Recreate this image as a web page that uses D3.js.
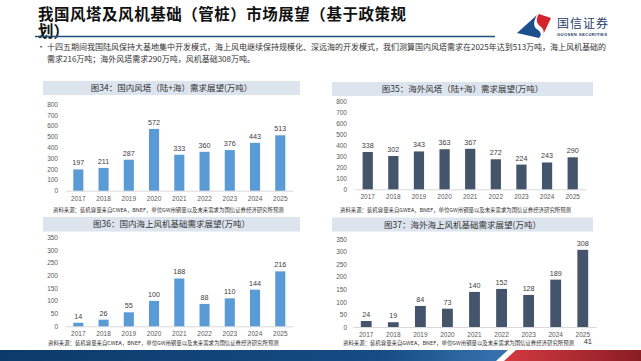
<!DOCTYPE html>
<html>
<head>
<meta charset="utf-8">
<script src="https://cdn.jsdelivr.net/npm/d3@7/dist/d3.min.js"></script>
<style>
  body { margin: 0; background: #fff; }
  svg { display: block; }
</style>
</head>
<body>
<svg id="page" width="641" height="361"></svg>
<script>
'use strict';
var years = ['2017', '2018', '2019', '2020', '2021', '2022', '2023', '2024', '2025'];
var domesticTower = [197, 211, 287, 572, 333, 360, 376, 443, 513];
var overseasTower = [338, 302, 343, 363, 367, 272, 224, 243, 290];
var domesticFoundation = [14, 26, 55, 100, 188, 88, 110, 144, 216];
var overseasFoundation = [24, 19, 84, 73, 140, 152, 128, 189, 308];
var towerTicks = [0, 100, 200, 300, 400, 500, 600, 700, 800];
var foundationTicks = [0, 50, 100, 150, 200, 250, 300, 350];
var chartTitles = [
    '图34：国内风塔（陆+海）需求展望(万吨）',
    '图35：海外风塔（陆+海）需求展望(万吨）',
    '图36：国内海上风机基础需求展望(万吨）',
    '图37：海外海上风机基础需求展望(万吨）'
];
var sourceCWEA = '资料来源：装机容量来自CWEA，BNEF，单位GW用钢量以及未来需求为国信证券经济研究所预测';
var sourceGWEA = '资料来源：装机容量来自GWEA，BNEF，单位GW用钢量以及未来需求为国信证券经济研究所预测';
var pageTitle = ['我国风塔及风机基础（管桩）市场展望（基于政策规', '划）'];
var bulletLines = [
    '十四五期间我国陆风保持大基地集中开发模式，海上风电继续保持规模化、深远海的开发模式，我们测算国内风塔需求在2025年达到513万吨，海上风机基础的',
    '需求216万吨；海外风塔需求290万吨，风机基础308万吨。'
];

var cjk = '"Noto Sans CJK SC", "Noto Sans", sans-serif';
var num = '"Liberation Sans", Arial, "Noto Sans CJK SC", sans-serif';
var lightBlue = '#5b9bd5',
    slate = '#44546a';

var svg = d3.select('#page');
svg.append('rect').attr('width', 641).attr('height', 361).attr('fill', '#fff');

// page header
svg.selectAll('text.ptitle')
    .data(pageTitle)
    .enter().append('text')
    .attr('class', 'ptitle')
    .attr('x', 38)
    .attr('y', function (d, i) { return 20 + i * 16.5; })
    .attr('font-family', cjk)
    .attr('font-size', 15.5)
    .attr('font-weight', 'bold')
    .attr('fill', '#111')
    .attr('textLength', function (d) { return d.length === 2 ? null : 368; })
    .text(function (d) { return d; });

svg.append('line')
    .attr('x1', 35).attr('x2', 495)
    .attr('y1', 36.5).attr('y2', 36.5)
    .attr('stroke', '#1f4e79').attr('stroke-width', 1.6);

// logo
var logo = svg.append('g');
logo.append('path')
    .attr('d', 'M517,33 L537,15 C533,22 533,27 538,30 C542,33 541,36 539,38 Z')
    .attr('fill', '#1d4f8c');
logo.append('path')
    .attr('d', 'M539,14 L551,18 L542,37 C545,33 544,29 540,26 C536,23 536,18 539,14 Z')
    .attr('fill', '#d4242c');
logo.append('text')
    .attr('x', 557).attr('y', 27.5)
    .attr('font-family', cjk).attr('font-size', 12)
    .attr('fill', '#2a3e69')
    .attr('textLength', 51)
    .text('国信证券');
logo.append('text')
    .attr('x', 557).attr('y', 36)
    .attr('font-family', num).attr('font-size', 4.2)
    .attr('font-weight', 'bold')
    .attr('fill', '#2a3e69')
    .attr('textLength', 50)
    .text('GUOSEN SECURITIES');

// bullet paragraph
svg.append('text')
    .attr('x', 37).attr('y', 50)
    .attr('font-family', cjk).attr('font-size', 8)
    .attr('fill', '#333')
    .text('•');
svg.selectAll('text.bullet')
    .data(bulletLines)
    .enter().append('text')
    .attr('class', 'bullet')
    .attr('x', 47)
    .attr('y', function (d, i) { return 50 + i * 12; })
    .attr('font-family', cjk)
    .attr('font-size', 8)
    .attr('fill', '#333')
    .text(function (d) { return d; });

var panels = [
    { values: domesticTower, ticks: towerTicks, color: lightBlue, title: chartTitles[0], source: sourceCWEA,
      band: [43, 300, 81, 14], xr: [65.7, 292.9], yr: [190.7, 104.3], axisX: 61, srcX: 53, srcY: 211.5 },
    { values: overseasTower, ticks: towerTicks, color: slate, title: chartTitles[1], source: sourceGWEA,
      band: [332, 593, 82, 14], xr: [354.9, 585.5], yr: [189.3, 101], axisX: 350, srcX: 340, srcY: 211.5 },
    { values: domesticFoundation, ticks: foundationTicks, color: lightBlue, title: chartTitles[2], source: sourceCWEA,
      band: [43, 300, 217, 14.5], xr: [65.7, 292.9], yr: [326.3, 237.3], axisX: 61, srcX: 48, srcY: 344.5 },
    { values: overseasFoundation, ticks: foundationTicks, color: slate, title: chartTitles[3], source: sourceGWEA,
      band: [332, 593, 217.5, 14], xr: [352.7, 596.3], yr: [327, 239.3], axisX: 350, srcX: 343, srcY: 345 }
];

panels.forEach(drawChart);

function drawChart(p) {
    var g = svg.append('g');
    g.append('rect')
        .attr('x', p.band[0]).attr('y', p.band[2])
        .attr('width', p.band[1] - p.band[0]).attr('height', p.band[3])
        .attr('fill', '#dce4ee');
    g.append('text')
        .attr('x', (p.band[0] + p.band[1]) / 2)
        .attr('y', p.band[2] + p.band[3] / 2 + 3)
        .attr('text-anchor', 'middle')
        .attr('font-family', cjk).attr('font-size', 8.5)
        .attr('fill', '#333')
        .text(p.title);

    var x = d3.scaleBand().domain(years).range(p.xr).paddingInner(0.6).paddingOuter(0.3);
    var y = d3.scaleLinear()
        .domain([0, p.ticks[p.ticks.length - 1]])
        .range(p.yr);

    var yAxis = g.append('g')
        .attr('transform', 'translate(' + p.axisX + ',0)')
        .call(d3.axisLeft(y).tickValues(p.ticks).tickSize(0).tickPadding(3));
    yAxis.select('.domain').remove();
    yAxis.selectAll('text')
        .attr('font-family', num).attr('font-size', 6.5).attr('fill', '#595959');

    var xAxis = g.append('g')
        .attr('transform', 'translate(0,' + p.yr[0] + ')')
        .call(d3.axisBottom(x).tickSize(0).tickSizeOuter(0).tickPadding(5.5));
    xAxis.select('.domain').attr('stroke', '#d9d9d9');
    xAxis.selectAll('text')
        .attr('font-family', num).attr('font-size', 6.5).attr('fill', '#595959');

    g.selectAll('rect.bar')
        .data(p.values)
        .enter().append('rect')
        .attr('class', 'bar')
        .attr('x', function (d, i) { return x(years[i]); })
        .attr('y', function (d) { return y(d); })
        .attr('width', x.bandwidth())
        .attr('height', function (d) { return y(0) - y(d); })
        .attr('fill', p.color);

    g.selectAll('text.val')
        .data(p.values)
        .enter().append('text')
        .attr('class', 'val')
        .attr('x', function (d, i) { return x(years[i]) + x.bandwidth() / 2; })
        .attr('y', function (d) { return y(d) - 4; })
        .attr('text-anchor', 'middle')
        .attr('font-family', num).attr('font-size', 7.2)
        .attr('fill', '#404040')
        .text(function (d) { return d; });

    g.append('text')
        .attr('x', p.srcX).attr('y', p.srcY)
        .attr('font-family', cjk).attr('font-size', 5.4)
        .attr('fill', '#333')
        .text(p.source);
}

// page number
svg.append('text')
    .attr('x', 592).attr('y', 344)
    .attr('text-anchor', 'end')
    .attr('font-family', num).attr('font-size', 7.5)
    .attr('fill', '#333')
    .text('41');

// footer band
var defs = svg.append('defs');
var blueGrad = defs.append('linearGradient').attr('id', 'blueGrad');
blueGrad.append('stop').attr('offset', '0%').attr('stop-color', '#0c3a69');
blueGrad.append('stop').attr('offset', '75%').attr('stop-color', '#154c84');
blueGrad.append('stop').attr('offset', '100%').attr('stop-color', '#3a74b0');
var redGrad = defs.append('linearGradient').attr('id', 'redGrad');
redGrad.append('stop').attr('offset', '0%').attr('stop-color', '#d43a40');
redGrad.append('stop').attr('offset', '100%').attr('stop-color', '#8a1c24');

svg.append('path')
    .attr('d', 'M0,350 L508,350 L496,361 L0,361 Z')
    .attr('fill', 'url(#blueGrad)');
svg.append('path')
    .attr('d', 'M516,350 L641,350 L641,361 L504,361 Z')
    .attr('fill', 'url(#redGrad)');
</script>
</body>
</html>
